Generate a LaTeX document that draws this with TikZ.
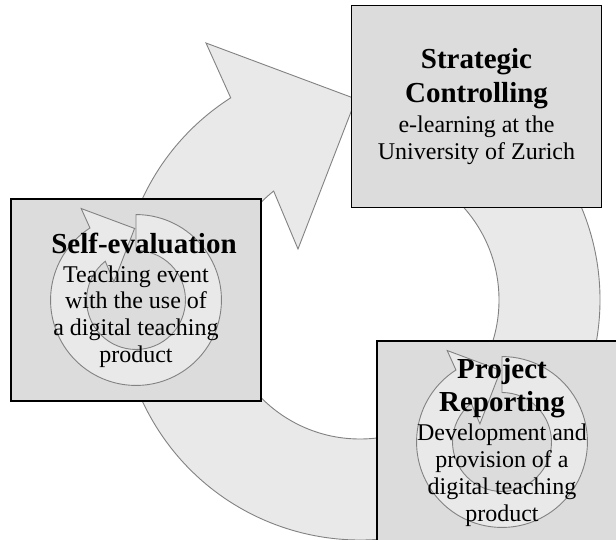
\documentclass[tikz,border=0pt]{standalone}
\usepackage{fontspec}
\setmainfont{Liberation Serif}
\definecolor{boxfill}{RGB}{220,220,220}
\definecolor{ringfill}{RGB}{233,233,233}
\definecolor{ringline}{RGB}{130,130,130}
\newcommand{\titlefont}{\fontsize{29}{33}\selectfont\bfseries}

\begin{document}
\begin{tikzpicture}[
  x=1pt, y=1pt,
  font=\fontsize{24}{26.7}\selectfont,
  box/.style={draw=black, line width=1.4pt, fill=boxfill, minimum width=250pt, minimum height=202pt, inner sep=0pt},
  txt/.style={align=center, inner sep=0pt},
  ring/.style={draw=ringline, fill=ringfill, line width=0.9pt},
  cyclearrow/.pic={
    \path[ring] (122.6:240) arc[start angle=122.6, end angle=450, radius=240]
      -- (90:139) arc[start angle=450, end angle=128.4, radius=139]
      -- (-62,51) -- (-4,201) -- (-154,257) -- cycle;
  }
]
\path[use as bounding box, clip] (0,0) rectangle (616,539);
\fill[white] (0,0) rectangle (616,539);
% big cycle behind the boxes
\coordinate (hub) at (360,239);
\pic at (hub) {cyclearrow};
% the three stages
\node[box] (sc) at (476.5,432.5) {};
\node[box] (se) at (136,239) {};
\node[box] (pr) at (502,97) {};
% small cycles inside two stages
\pic[scale=0.356] at (se.center) {cyclearrow};
\pic[scale=0.356] at (pr.center) {cyclearrow};
% texts
\node[txt] (sc-text) at (sc.center) {{\titlefont Strategic}\\[7pt]{\titlefont Controlling}\\[3pt]e-learning at the\\University of Zurich};
\node[txt] (se-text) at (se.center) {{\titlefont\hspace*{16pt}Self-evaluation}\\[2.5pt]Teaching event\\with the use of\\a digital teaching\\product};
\node[txt] (pr-text) at (pr.center) {{\titlefont Project}\\[7pt]{\titlefont Reporting}\\[2.5pt]Development and\\provision of a\\digital teaching\\product};
\end{tikzpicture}
\end{document}
